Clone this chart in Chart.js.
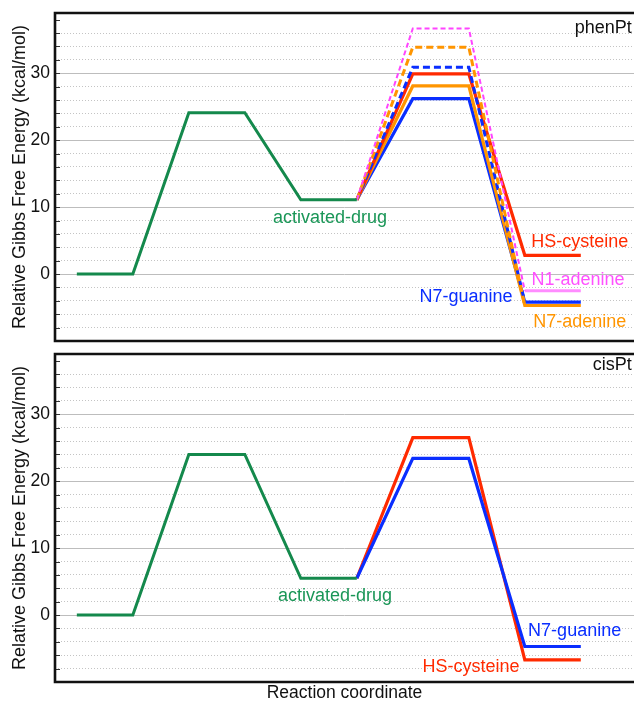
<!DOCTYPE html>
<html>
<head>
<meta charset="utf-8">
<script src="https://cdn.jsdelivr.net/npm/chart.js@4"></script>
<style>
  html, body { margin: 0; padding: 0; background: #fff; }
  #wrap { position: relative; width: 634px; height: 704px; overflow: hidden; }
  canvas { position: absolute; left: 0; }
</style>
</head>
<body>
<div id="wrap">
  <canvas id="top" width="634" height="348" style="top:0px"></canvas>
  <canvas id="bot" width="634" height="357" style="top:347px"></canvas>
</div>
<script>
// ---------- data ----------
const activationX = [0, 1, 2, 3, 4, 5];
const bindingX = [5, 6, 7, 8, 9];
const altBindingX = [5, 6, 7, 8];
const productX = [8, 9];

const phenPtActivation = [0, 0, 24.1, 24.1, 11.1, 11.1];
const phenPtCys = [11.1, 29.9, 29.9, 2.8, 2.8];
const phenPtN7Ade = [11.1, 28.1, 28.1, -4.7, -4.7];
const phenPtN7Gua = [11.1, 26.2, 26.2, -4.2, -4.2];
const phenPtN1AdeAlt = [11.1, 36.7, 36.7, -2.5];
const phenPtN7AdeAlt = [11.1, 33.9, 33.9, -4.7];
const phenPtN7GuaAlt = [11.1, 30.9, 30.9, -4.2];
const phenPtN1AdeProduct = [-2.5, -2.5];

const cisPtActivation = [0, 0, 24.0, 24.0, 5.5, 5.5];
const cisPtCys = [5.5, 26.5, 26.5, -6.7, -6.7];
const cisPtN7Gua = [5.5, 23.4, 23.4, -4.7, -4.7];

const yMajorTicks = [0, 10, 20, 30];
const phenPtTexts = ['phenPt', 'activated-drug', 'HS-cysteine', 'N1-adenine', 'N7-guanine', 'N7-adenine'];
const cisPtTexts = ['cisPt', 'activated-drug', 'N7-guanine', 'HS-cysteine'];

// ---------- styling ----------
const FONT = '"Liberation Sans", Arial, Helvetica, sans-serif';
const C = {
  green: '#14894c', greenText: '#1a9657',
  red: '#ff2a00', orange: '#ff9500', blue: '#0a2eff',
  pink: '#ff44ff', pinkLight: '#ff8cff', pinkText: '#ff50ff'
};

function pts(xs, ys) { return xs.map((x, i) => ({ x: x, y: ys[i] })); }
function line(xs, ys, color, width, dash) {
  return { data: pts(xs, ys), borderColor: color, borderWidth: width, borderDash: dash || [],
           pointRadius: 0, fill: false, tension: 0, borderCapStyle: 'butt', borderJoinStyle: 'miter' };
}

const framePlugin = {
  id: 'frame',
  afterDraw(chart) {
    const { ctx, chartArea: a, scales } = chart;
    const y = scales.y;
    ctx.save();
    ctx.strokeStyle = '#333'; ctx.lineWidth = 1;
    for (let v = -8; v <= 38; v += 2) {
      const py = Math.round(y.getPixelForValue(v)) + 0.5;
      ctx.beginPath(); ctx.moveTo(a.left, py); ctx.lineTo(a.left + 5, py); ctx.stroke();
    }
    ctx.strokeStyle = '#111'; ctx.lineWidth = 2.6;
    ctx.beginPath();
    ctx.moveTo(a.right + 2, a.top); ctx.lineTo(a.left, a.top);
    ctx.lineTo(a.left, a.bottom); ctx.lineTo(a.right + 2, a.bottom);
    ctx.stroke();
    ctx.restore();
  }
};

const textPlugin = {
  id: 'texts',
  afterDatasetsDraw(chart, args, opts) {
    const { ctx, scales } = chart;
    ctx.save();
    opts.items.forEach(it => {
      ctx.font = (it.size || 18) + 'px ' + FONT;
      ctx.fillStyle = it.color;
      ctx.textAlign = it.align || 'center';
      ctx.textBaseline = 'middle';
      ctx.fillText(it.text, scales.x.getPixelForValue(it.x), scales.y.getPixelForValue(it.y));
    });
    ctx.restore();
  }
};

function makeOptions(showXTitle, padding, items) {
  return {
    responsive: false,
    animation: false,
    layout: { padding: padding },
    plugins: { legend: { display: false }, tooltip: { enabled: false }, texts: { items: items } },
    scales: {
      x: {
        type: 'linear', min: -0.39, max: 9.95,
        display: showXTitle,
        grid: { display: false, drawTicks: false },
        border: { display: false },
        ticks: { display: false },
        title: { display: showXTitle, text: 'Reaction coordinate', color: '#111',
                 font: { family: FONT, size: 17.5, lineHeight: 1.2 }, padding: { top: 0, bottom: 0 } },
        afterFit(s) { if (showXTitle) s.height = 22; s.paddingLeft = 0; s.paddingRight = 0; }
      },
      y: {
        type: 'linear', min: -10, max: 39,
        grid: {
          drawTicks: false, lineWidth: 1,
          color: c => {
            const v = c.tick.value;
            if (v <= -10 || v >= 39) return 'rgba(0,0,0,0)';
            return (v % 10 === 0) ? '#bdbdbd' : '#c4c4c4';
          }
        },
        border: { display: false, dash: c => (c.tick && c.tick.value % 10 === 0) ? [] : [1, 2] },
        ticks: {
          stepSize: 2, maxTicksLimit: 100, autoSkip: false, padding: 5, color: '#111',
          font: { family: FONT, size: 17.5 },
          callback: v => yMajorTicks.includes(v) ? String(v) : ''
        },
        title: { display: true, text: 'Relative Gibbs Free Energy (kcal/mol)', color: '#111',
                 font: { family: FONT, size: 18, lineHeight: 1.2 }, padding: { top: 9, bottom: 0 } },
        afterFit(s) { s.width = 55; s.paddingTop = 0; s.paddingBottom = 0; }
      }
    }
  };
}

new Chart(document.getElementById('top'), {
  type: 'line',
  data: { datasets: [
    line(activationX, phenPtActivation, C.green, 3),
    line(altBindingX, phenPtN1AdeAlt, C.pink, 2, [5, 3]),
    line(altBindingX, phenPtN7AdeAlt, C.orange, 3, [7, 4]),
    line(altBindingX, phenPtN7GuaAlt, C.blue, 3, [7, 4]),
    line(productX, phenPtN1AdeProduct, C.pinkLight, 3),
    line(bindingX, phenPtCys, C.red, 3.2),
    line(bindingX, phenPtN7Ade, C.orange, 3.2),
    line(bindingX, phenPtN7Gua, C.blue, 3.2)
  ]},
  options: makeOptions(false, { top: 13, bottom: 7, left: 0, right: 0 }, [
    { text: phenPtTexts[0], x: 9.91, y: 36.8, color: '#111', align: 'right' },
    { text: phenPtTexts[1], x: 4.52, y: 8.3, color: C.greenText },
    { text: phenPtTexts[2], x: 8.98, y: 4.8, color: C.red },
    { text: phenPtTexts[3], x: 8.95, y: -0.95, color: C.pinkText },
    { text: phenPtTexts[4], x: 6.95, y: -3.5, color: C.blue },
    { text: phenPtTexts[5], x: 8.98, y: -7.1, color: C.orange }
  ]),
  plugins: [textPlugin, framePlugin]
});

new Chart(document.getElementById('bot'), {
  type: 'line',
  data: { datasets: [
    line(activationX, cisPtActivation, C.green, 3),
    line(bindingX, cisPtN7Gua, C.blue, 3.2),
    line(bindingX, cisPtCys, C.red, 3.2)
  ]},
  options: makeOptions(true, { top: 7, bottom: 0, left: 0, right: 0 }, [
    { text: cisPtTexts[0], x: 9.91, y: 37.4, color: '#111', align: 'right' },
    { text: cisPtTexts[1], x: 4.61, y: 2.8, color: C.greenText },
    { text: cisPtTexts[2], x: 8.89, y: -2.35, color: C.blue },
    { text: cisPtTexts[3], x: 7.04, y: -7.7, color: C.red }
  ]),
  plugins: [textPlugin, framePlugin]
});
</script>
</body>
</html>
